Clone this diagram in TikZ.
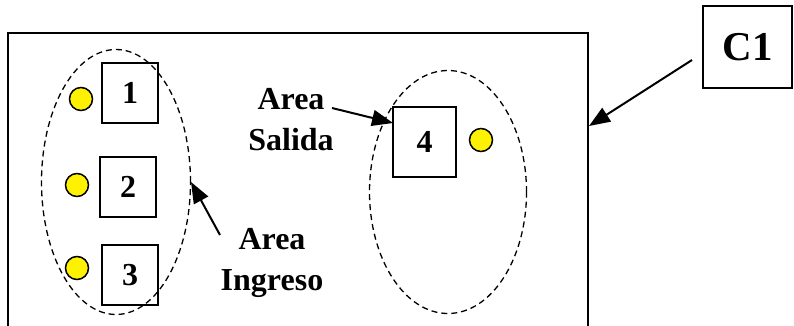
\documentclass[tikz,border=0pt]{standalone}
\usepackage{fontspec}
\setmainfont{Liberation Serif}
\usetikzlibrary{arrows.meta,shapes.geometric}
\begin{document}
\begin{tikzpicture}[x=1pt,y=-1pt,
  solidline/.style={line width=2pt},
  box/.style={draw,line width=2pt,minimum width=56pt,minimum height=60pt,inner sep=0pt,font=\fontsize{32}{32}\selectfont\bfseries},
  dot/.style={circle,draw,line width=1.5pt,fill=yellow,minimum size=23pt,inner sep=0pt},
  area/.style={draw,ellipse,line width=1.3pt,dash pattern=on 6pt off 4pt},
  lbl/.style={align=center,font=\fontsize{32}{41}\selectfont\bfseries,inner sep=0pt},
  arr/.style={line width=2pt,-{Triangle[length=21pt,width=16pt]}}]
\useasboundingbox (0,0) rectangle (794,326);
% main rectangle (open at bottom)
\coordinate (bl) at (8,327);
\coordinate (tl) at (8,33);
\coordinate (tr) at (588,33);
\coordinate (br) at (588,327);
\draw[solidline] (bl) -- (tl) -- (tr) -- (br);
\coordinate (c1tip) at (589,126);
% ellipses
\node[area,minimum width=149pt,minimum height=265pt] (e1) at (116,182) {};
\node[area,minimum width=157pt,minimum height=243pt] (e2) at (448,192) {};
% boxes
\node[box] (b1) at (130,93) {1};
\node[box] (b2) at (128,187) {2};
\node[box] (b3) at (130,275) {3};
\node[box,minimum width=63pt,minimum height=70pt] (b4) at (424.5,142) {4};
% dots
\node[dot] (d1) at (81,99) {};
\node[dot] (d2) at (77,185) {};
\node[dot] (d3) at (77,268) {};
\node[dot] (d4) at (481,140) {};
% C1
\node[draw,line width=2pt,minimum width=89pt,minimum height=82pt,inner sep=0pt,font=\fontsize{41}{41}\selectfont\bfseries] (c1) at (747.5,47) {C1};
% labels
\node[lbl] (ls) at (291,120) {Area\\Salida};
\node[lbl] (li) at (272,263) {Area\\Ingreso};
\coordinate (stip) at (393,123);
\coordinate (itip) at (191,182);
\coordinate (sstart) at (332,108);
\coordinate (istart) at (220,235);
\coordinate (cstart) at (692,60);
\draw[arr] (sstart) -- (stip);
\draw[arr] (istart) -- (itip);
\draw[arr] (cstart) -- (c1tip);
\end{tikzpicture}
\end{document}
